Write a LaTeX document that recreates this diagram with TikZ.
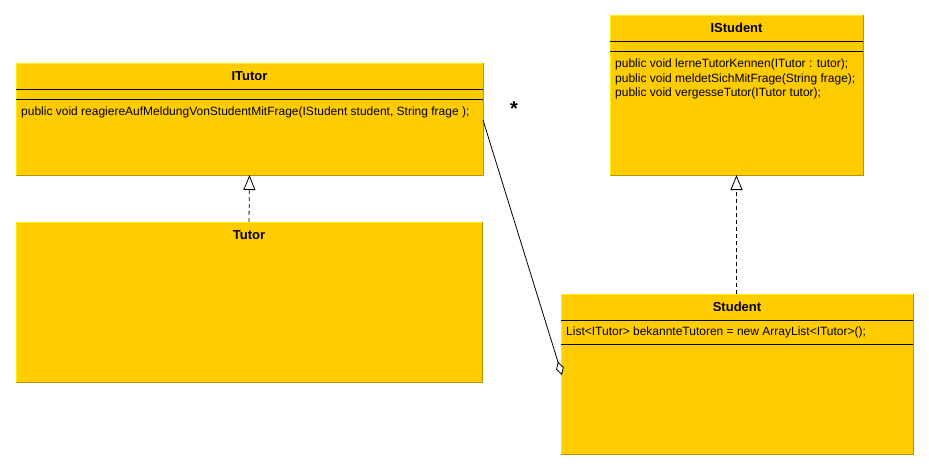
\documentclass[tikz,border=0pt]{standalone}
\usepackage{fontspec}
\setmainfont{Liberation Sans}
\usetikzlibrary{arrows.meta}
\definecolor{boxfill}{HTML}{FFCC00}
\definecolor{boxlight}{HTML}{FFEE00}
\definecolor{boxdark}{HTML}{B39500}
\begin{document}
\begin{tikzpicture}[x=1pt,y=-1pt,
  classbox/.style={fill=boxfill, draw=none, inner sep=0pt, outer sep=0pt, anchor=north west},
  classtitle/.style={font=\fontsize{13}{15}\selectfont\bfseries, inner sep=0pt},
  member/.style={font=\fontsize{12}{14}\selectfont, anchor=west, inner sep=0pt},
  sepline/.style={black, line width=1pt},
  realization/.style={line width=0.8pt, dash pattern=on 4pt off 3pt, -{Triangle[length=15pt,width=12pt,fill=white]}},
  aggregation/.style={line width=0.8pt, -{Diamond[length=14pt,width=8pt,fill=white]}}
]
\useasboundingbox (0,0) rectangle (929,471);
\fill[white] (0,0) rectangle (929,471);

% class boxes
\node[classbox, minimum width=467pt, minimum height=112pt] (itutor) at (16,63) {};
\node[classbox, minimum width=466pt, minimum height=160pt] (tutor) at (16,222) {};
\node[classbox, minimum width=253pt, minimum height=160pt] (istudent) at (610,15) {};
\node[classbox, minimum width=352pt, minimum height=160pt] (student) at (561,294) {};

\foreach \n in {itutor,tutor,istudent,student}{
  \draw[boxlight] (\n.south west) -- (\n.north west) -- (\n.north east);
  \draw[boxdark] (\n.north east) -- (\n.south east) -- (\n.south west);
}

% titles
\node[classtitle] (itutortitle) at ([yshift=-13pt]itutor.north) {ITutor};
\node[classtitle] (tutortitle) at ([yshift=-13pt]tutor.north) {Tutor};
\node[classtitle] (istudenttitle) at ([yshift=-13pt]istudent.north) {IStudent};
\node[classtitle] (studenttitle) at ([yshift=-13pt]student.north) {Student};

% compartment separators
\draw[sepline] ([yshift=-26pt]itutor.north west) -- ([yshift=-26pt]itutor.north east);
\draw[sepline] ([yshift=-36pt]itutor.north west) -- ([yshift=-36pt]itutor.north east);
\draw[sepline] ([yshift=-26pt]istudent.north west) -- ([yshift=-26pt]istudent.north east);
\draw[sepline] ([yshift=-36pt]istudent.north west) -- ([yshift=-36pt]istudent.north east);
\draw[sepline] ([yshift=-26pt]student.north west) -- ([yshift=-26pt]student.north east);
\draw[sepline] ([yshift=-50pt]student.north west) -- ([yshift=-50pt]student.north east);

% members
\node[member] (itutorm1) at ([xshift=5pt,yshift=-49pt]itutor.north west) {public void reagiereAufMeldungVonStudentMitFrage(IStudent student, String frage );};
\node[member] (istudentm1) at ([xshift=5pt,yshift=-49.3pt]istudent.north west) {public void lerneTutorKennen(ITutor : tutor);};
\node[member] (istudentm2) at ([xshift=5pt,yshift=-64pt]istudent.north west) {public void meldetSichMitFrage(String frage);};
\node[member] (istudentm3) at ([xshift=5pt,yshift=-78.7pt]istudent.north west) {public void vergesseTutor(ITutor tutor);};
\node[member] (studentm1) at ([xshift=5pt,yshift=-38.3pt]student.north west) {List<ITutor> bekannteTutoren = new ArrayList<ITutor>();};

% connectors
\draw[realization] (tutor.north) -- (itutor.south);
\draw[realization] (student.north -| istudent.south) -- (istudent.south);

\coordinate (aggfrom) at ([yshift=-57pt]itutor.north east);
\coordinate (aggto) at ([xshift=1pt,yshift=-81pt]student.north west);
\draw[aggregation] (aggfrom) -- (aggto);

\node[font=\fontsize{20}{20}\selectfont\bfseries, inner sep=0pt] (mult) at (514,109) {*};
\end{tikzpicture}
\end{document}
